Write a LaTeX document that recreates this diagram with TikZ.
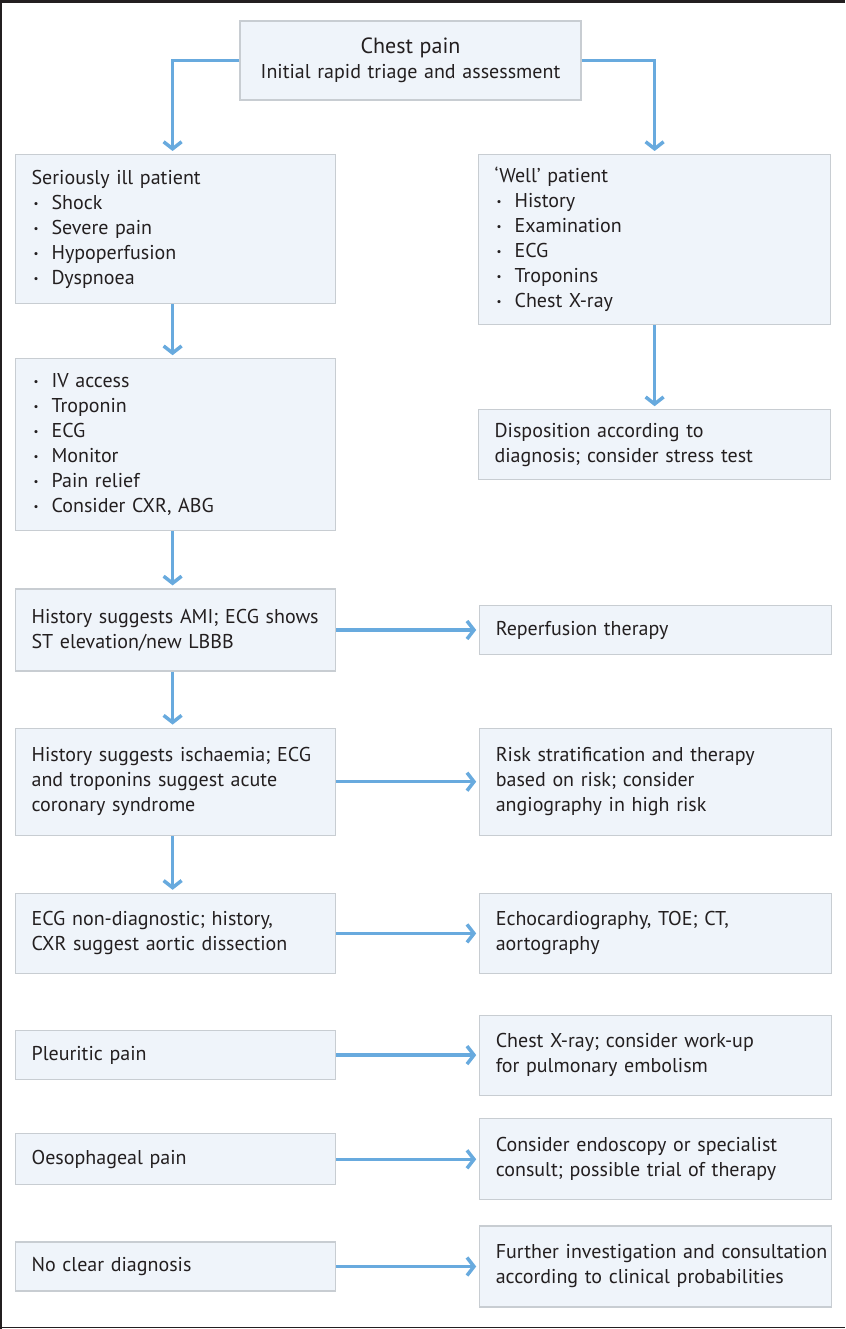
\documentclass[tikz,border=0pt]{standalone}
\usepackage{fontspec}
\setmainfont{PT Sans}
\usepackage{xcolor}
\usepackage{tikz}
\usetikzlibrary{arrows.meta,positioning}
\definecolor{cbox}{RGB}{239,244,250}
\definecolor{cedge}{RGB}{200,205,210}
\definecolor{carrow}{RGB}{104,170,222}
\definecolor{ctext}{RGB}{35,31,32}
\newcommand{\itm}{\makebox[20pt][l]{\hspace{2pt}\raisebox{2pt}{\fontsize{11}{11}\selectfont\textbullet}}}

\begin{document}
\begin{tikzpicture}[
  x=1pt, y=1pt, font=\fontsize{20}{25}\selectfont, text=ctext,
  box/.style={draw=cedge, line width=1.2pt, fill=cbox, align=left, inner xsep=16pt, inner ysep=0pt},
  lbox/.style={box, text width=288pt},
  rbox/.style={box, text width=320pt},
  arr/.style={carrow, line width=3.5pt, -{Straight Barb[length=7pt,width=18pt]}, shorten >=3pt}
]
\useasboundingbox (0,0) rectangle (845,-1329);
\draw[ctext, line width=3pt] (0,-1.5) -- (845,-1.5);
\draw[ctext, line width=1.6pt] (0.8,0) -- (0.8,-1329);
\draw[ctext, line width=1.6pt] (0,-1327.5) -- (845,-1327.5);

% top of the chart
\node[box, text width=309pt, align=center, minimum height=79pt] (chest) at (410.5,-60.5)
  {{\fontsize{22}{26}\selectfont Chest pain}\\Initial rapid triage and assessment};

% left column
\node[lbox, minimum height=149pt, anchor=north west] (ill) at (15,-154)
  {Seriously ill patient\\\itm Shock\\\itm Severe pain\\\itm Hypoperfusion\\\itm Dyspnoea};
\node[lbox, minimum height=172pt, below=54pt of ill] (iv)
  {\itm IV access\\\itm Troponin\\\itm ECG\\\itm Monitor\\\itm Pain relief\\\itm Consider CXR, ABG};
\node[lbox, minimum height=82pt, below=57pt of iv] (ami)
  {History suggests AMI; ECG shows\\ST elevation/new LBBB};
\node[lbox, minimum height=107pt, below=56pt of ami] (isch)
  {History suggests ischaemia; ECG\\and troponins suggest acute\\coronary syndrome};
\node[lbox, minimum height=80pt, below=57pt of isch] (aort)
  {ECG non-diagnostic; history,\\CXR suggest aortic dissection};
\node[lbox, minimum height=49pt, below=56pt of aort] (pleu) {Pleuritic pain};
\node[lbox, minimum height=51pt, below=53pt of pleu] (oeso) {Oesophageal pain};
\node[lbox, minimum height=49pt, below=56pt of oeso] (nodx) {No clear diagnosis};

% right column
\node[rbox, minimum height=170pt, anchor=north west] (well) at (478,-154)
  {‘Well’ patient\\\itm History\\\itm Examination\\\itm ECG\\\itm Troponins\\\itm Chest X-ray};
\node[rbox, minimum height=70pt, below=84pt of well] (disp)
  {Disposition according to\\diagnosis; consider stress test};
\node[rbox, minimum height=49pt, right=143pt of ami] (reper) {Reperfusion therapy};
\node[rbox, minimum height=107pt, right=143pt of isch] (risk)
  {Risk stratification and therapy\\based on risk; consider\\angiography in high risk};
\node[rbox, minimum height=80pt, right=143pt of aort] (echo)
  {Echocardiography, TOE; CT,\\aortography};
\node[rbox, minimum height=80pt, right=143pt of pleu] (cxr)
  {Chest X-ray; consider work-up\\for pulmonary embolism};
\node[rbox, minimum height=81pt, right=143pt of oeso] (endo)
  {Consider endoscopy or specialist\\consult; possible trial of therapy};
\node[rbox, minimum height=81pt, right=143pt of nodx] (furth)
  {\mbox{Further investigation and consultation}\\according to clinical probabilities};

% arrows
\draw[arr] (chest.west) -| ([xshift=-3pt]ill.north);
\draw[arr] (chest.east) -| (well.north);
\draw[arr] ([xshift=-3pt]ill.south) -- ([xshift=-3pt]iv.north);
\draw[arr] ([xshift=-3pt]iv.south) -- ([xshift=-3pt]ami.north);
\draw[arr] ([xshift=-3pt]ami.south) -- ([xshift=-3pt]isch.north);
\draw[arr] ([xshift=-3pt]isch.south) -- ([xshift=-3pt]aort.north);
\draw[arr] (well) -- (disp);
\draw[arr] (ami) -- (reper);
\draw[arr] (isch) -- (risk);
\draw[arr] (aort) -- (echo);
\draw[arr] (pleu) -- (cxr);
\draw[arr] (oeso) -- (endo);
\draw[arr] (nodx) -- (furth);
\end{tikzpicture}
\end{document}
